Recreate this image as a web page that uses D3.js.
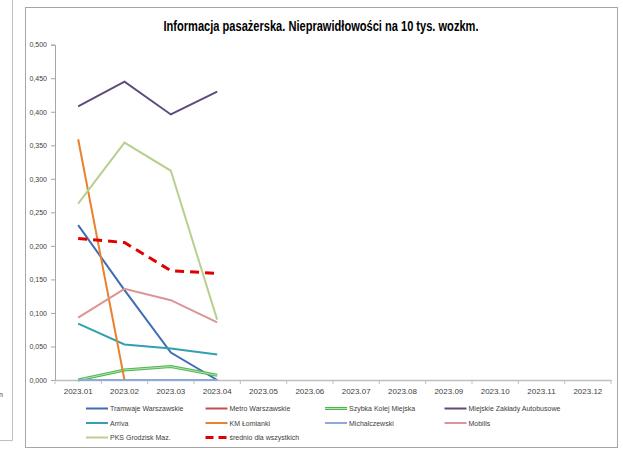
<!DOCTYPE html>
<html><head><meta charset="utf-8">
<script src="https://cdn.jsdelivr.net/npm/d3@7"></script>
<style>
body{margin:0;background:#fff;}
svg{display:block;}
text{font-family:"Liberation Sans Narrow","Liberation Sans",Arial,sans-serif;fill:#404040;}
</style></head>
<body>
<svg id="c" width="623" height="451"></svg>
<script>
const months = ["2023.01","2023.02","2023.03","2023.04","2023.05","2023.06","2023.07","2023.08","2023.09","2023.10","2023.11","2023.12"];
const yTicks = [0,0.05,0.1,0.15,0.2,0.25,0.3,0.35,0.4,0.45,0.5];
const seriesNames = ["Tramwaje Warszawskie","Metro Warszawskie","Szybka Kolej Miejska","Miejskie Zakłady Autobusowe","Arriva","KM Łomianki","Michalczewski","Mobilis","PKS Grodzisk Maz.","średnio dla wszystkich"];
const tramwaje = [0.231,0.134,0.041,0.000];
const metro = [0,0,0,0];
const skm = [0.000,0.015,0.020,0.007];
const mza = [0.408,0.445,0.396,0.430];
const arriva = [0.084,0.053,0.047,0.038];
const lomianki = [0.359,0.000];
const michalczewski = [0,0,0,0];
const mobilis = [0.093,0.136,0.119,0.086];
const pks = [0.263,0.354,0.312,0.090];
const srednio = [0.211,0.205,0.163,0.159];
const seriesValues = [tramwaje,metro,skm,mza,arriva,lomianki,michalczewski,mobilis,pks,srednio];
const colors = ["#3f6cb3","#c0504d","#4cb84c","#5f4a7d","#31a0b3","#e8822e","#8eaadb","#d99694","#b8d08f","#e00000"];

const svg = d3.select("#c");
// left partial panel
svg.append("path").attr("d","M0,440.5 H12.5 V0").attr("fill","none").attr("stroke","#bfbfbf");
svg.append("text").attr("x",-1).attr("y",397).attr("font-size",7).text("n");
// chart box
svg.append("rect").attr("x",25.5).attr("y",7.5).attr("width",592).attr("height",440).attr("fill","#fff").attr("stroke","#a6a6a6");

svg.append("text").attr("x",321).attr("y",31).attr("text-anchor","middle").attr("font-size",14).attr("font-weight","bold")
  .attr("textLength",315).attr("lengthAdjust","spacingAndGlyphs").style("fill","#000")
  .text("Informacja pasażerska. Nieprawidłowości na 10 tys. wozkm.");

const x = d3.scaleBand().domain(months).range([55,611]).padding(0);
const y = d3.scaleLinear().domain([0,0.5]).range([380,44.7]);

// y axis
const ya = svg.append("g").attr("transform","translate(55,0)")
  .call(d3.axisLeft(y).tickValues(yTicks).tickSize(4).tickFormat(d=>d3.format(".3f")(d).replace(".",",")));
ya.select(".domain").attr("stroke","#a6a6a6");
ya.selectAll(".tick line").attr("stroke","#a6a6a6");
ya.selectAll("text").attr("font-size",7).style("font-family","'Liberation Sans',Arial,sans-serif").style("fill","#404040").attr("dx",-1);

// x axis
const xa = svg.append("g").attr("transform","translate(0,380)")
  .call(d3.axisBottom(x).tickSize(0).tickPadding(8));
xa.select(".domain").attr("stroke","#bfbfbf").attr("stroke-width",1.5);
xa.selectAll("text").attr("font-size",8).style("font-family","'Liberation Sans',Arial,sans-serif").style("fill","#404040");
const bounds = months.map(m=>x(m)).concat([x.range()[1]]);
xa.selectAll(".bt").data(bounds).enter().append("line").attr("class","bt")
  .attr("x1",d=>d).attr("x2",d=>d).attr("y1",0).attr("y2",4).attr("stroke","#bfbfbf");

const line = d3.line().x((d,i)=>x(months[i])+x.bandwidth()/2).y(d=>y(d));
const plot = svg.append("g");
seriesValues.forEach((vals,k)=>{
  if(k===2){
    plot.append("path").attr("d",line(vals)).attr("fill","none").attr("stroke",colors[k]).attr("stroke-width",3);
    plot.append("path").attr("d",line(vals)).attr("fill","none").attr("stroke","#b5e3b5").attr("stroke-width",1);
  } else if(k===9){
    plot.append("path").attr("d",line(vals)).attr("fill","none").attr("stroke",colors[k]).attr("stroke-width",3).attr("stroke-dasharray","9,6");
  } else {
    plot.append("path").attr("d",line(vals)).attr("fill","none").attr("stroke",colors[k]).attr("stroke-width",2);
  }
});

// legend
const leg = svg.append("g");
seriesNames.forEach((name,k)=>{
  const col = k%4, row = Math.floor(k/4);
  const lx = 86 + col*119.5, ly = 408.5 + row*14.5;
  if(k===2){
    leg.append("line").attr("x1",lx).attr("x2",lx+22).attr("y1",ly).attr("y2",ly).attr("stroke",colors[k]).attr("stroke-width",3);
    leg.append("line").attr("x1",lx).attr("x2",lx+22).attr("y1",ly).attr("y2",ly).attr("stroke","#b5e3b5").attr("stroke-width",1);
  } else if(k===9){
    leg.append("line").attr("x1",lx).attr("x2",lx+22).attr("y1",ly).attr("y2",ly).attr("stroke",colors[k]).attr("stroke-width",3).attr("stroke-dasharray","8,5");
  } else {
    leg.append("line").attr("x1",lx).attr("x2",lx+22).attr("y1",ly).attr("y2",ly).attr("stroke",colors[k]).attr("stroke-width",2);
  }
  leg.append("text").attr("x",lx+24).attr("y",ly+2.5).attr("font-size",7).style("font-family","'Liberation Sans',Arial,sans-serif").text(name);
});
</script>
</body></html>
